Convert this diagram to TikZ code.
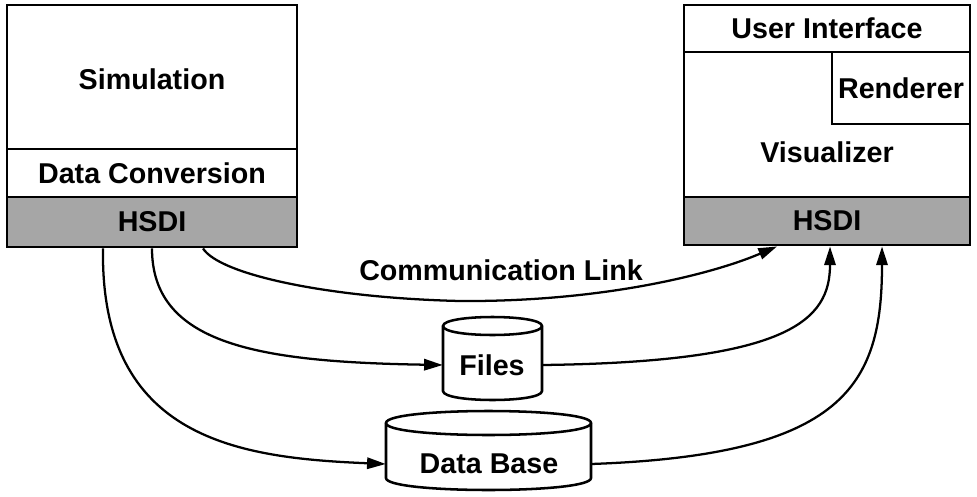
\documentclass[tikz,border=0pt]{standalone}
\usepackage{fontspec}
\setmainfont{Liberation Sans}
\usetikzlibrary{arrows.meta,fit,calc}
\begin{document}
\begin{tikzpicture}[x=0.75pt,y=-0.75pt,
  box/.style={draw,line width=2.2pt,inner sep=0pt,fill=white},
  hsdi/.style={box,fill=black!35},
  lbl/.style={font=\fontsize{21.5}{24}\selectfont\bfseries,inner sep=0pt},
  link/.style={line width=1.7pt,-{Triangle[length=14pt,width=8.5pt]}},
  cyl/.style={line width=1.9pt}]
\useasboundingbox (0,0) rectangle (977,496);

% left stack
\node[box,fit={(7,5)(297,149)}] (sim) {};
\node[lbl] (simt) at ([yshift=-2pt]sim.center) {Simulation};
\node[box,fit={(7,149)(297,197)}] (dc) {};
\node[lbl] (dct) at (dc.center) {Data Conversion};
\node[hsdi,fit={(7,197)(297,247)}] (hl) {};
\node[lbl] (hlt) at (hl.center) {HSDI};

% right stack
\node[box,fit={(684,5)(970,52)}] (ui) {};
\node[lbl] (uit) at (ui.center) {User Interface};
\node[box,fit={(684,52)(970,197)}] (vis) {};
\node[box,fit={(832,52)(970,124)}] (ren) {};
\node[lbl] (rent) at (ren.center) {Renderer};
\node[lbl] (vist) at (827,152) {Visualizer};
\node[hsdi,fit={(684,197)(970,245)}] (hr) {};
\node[lbl] (hrt) at (hr.center) {HSDI};

% Files cylinder
\node[fit={(443,317)(542,400)},inner sep=0pt] (files) {};
\draw[cyl,fill=white] (443,326) -- (443,391) .. controls (443,403) and (542,403) .. (542,391)
  -- (542,326) .. controls (542,314) and (443,314) .. (443,326) -- cycle;
\draw[cyl] (443,326) .. controls (443,338) and (542,338) .. (542,326);
\node[lbl] (filest) at (492,365) {Files};

% Data Base cylinder
\node[fit={(386,412)(591,490)},inner sep=0pt] (db) {};
\draw[cyl,fill=white] (386,423) -- (386,478) .. controls (386,494) and (591,494) .. (591,478)
  -- (591,423) .. controls (591,407) and (386,407) .. (386,423) -- cycle;
\draw[cyl] (386,423) .. controls (386,439) and (591,439) .. (591,423);
\node[lbl] (dbt) at (489,464) {Data Base};

% communication link
\draw[link] ([xshift=38.25pt]hl.south) .. controls (220,275) and (330,298) .. (460,301)
  .. controls (600,302) and (710,275) .. ([xshift=-37.5pt]hr.south);
\node[lbl] (comt) at (501,270) {Communication Link};

% via files
\draw[link] (hl.south) .. controls (152,345) and (260,362) .. (files.west |- filest);
\draw[link] (files.east |- filest) .. controls (790,362) and (830,320) .. ([xshift=2.25pt]hr.south);

% via data base
\draw[link] ([xshift=-36.75pt]hl.south) .. controls (100,440) and (240,458) .. (db.west |- dbt);
\draw[link] (db.east |- dbt) .. controls (845,455) and (882,385) .. ([xshift=41.25pt]hr.south);
\end{tikzpicture}
\end{document}
